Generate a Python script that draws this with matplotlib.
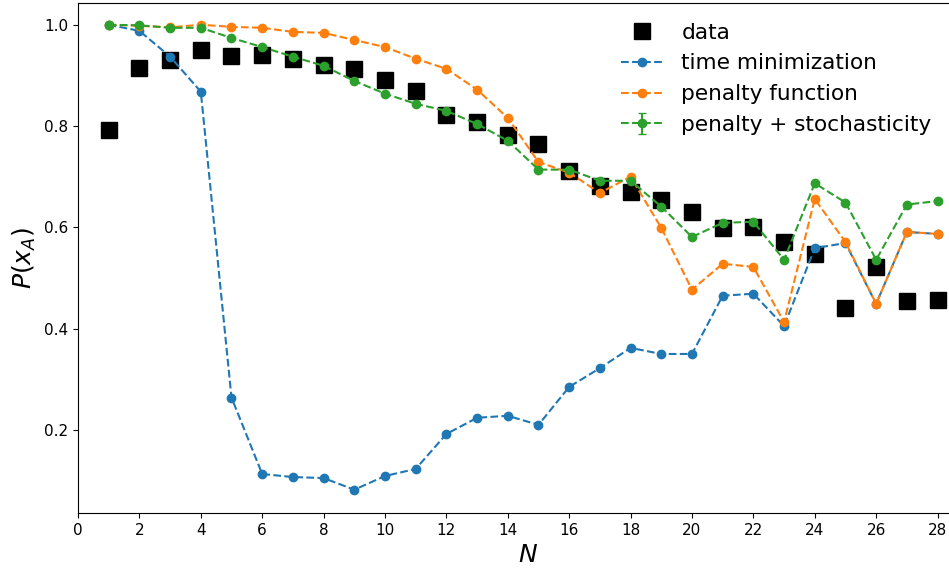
import matplotlib
matplotlib.use('Agg')
import matplotlib.pyplot as plt

N = list(range(1, 29))

# experimental data (black squares)
data = [0.793, 0.915, 0.931, 0.950, 0.939, 0.940, 0.933, 0.921, 0.913, 0.891,
        0.870, 0.821, 0.809, 0.783, 0.764, 0.711, 0.682, 0.669, 0.654, 0.630,
        0.598, 0.600, 0.572, 0.548, 0.441, 0.521, 0.454, 0.457]

time_min = [1.000, 0.988, 0.937, 0.868, 0.264, 0.113, 0.107, 0.105, 0.082, 0.109,
            0.123, 0.192, 0.224, 0.228, 0.210, 0.285, 0.322, 0.362, 0.350, 0.350,
            0.465, 0.469, 0.405, 0.559, 0.569, 0.449, 0.591, 0.587]

penalty = [1.000, 0.998, 0.995, 1.000, 0.996, 0.994, 0.986, 0.984, 0.970, 0.956,
           0.933, 0.913, 0.872, 0.816, 0.729, 0.708, 0.668, 0.700, 0.599, 0.477,
           0.528, 0.522, 0.413, 0.656, 0.571, 0.449, 0.591, 0.587]

penalty_stoch = [1.000, 0.999, 0.994, 0.994, 0.974, 0.956, 0.937, 0.919, 0.889, 0.864,
                 0.844, 0.830, 0.804, 0.771, 0.714, 0.714, 0.692, 0.692, 0.641, 0.581,
                 0.609, 0.611, 0.536, 0.687, 0.649, 0.536, 0.645, 0.652]
# error bars are too small to see in the figure
penalty_stoch_err = [0.002, 0.002, 0.002, 0.002, 0.002, 0.002, 0.002, 0.002, 0.002, 0.002,
                     0.002, 0.002, 0.002, 0.002, 0.002, 0.002, 0.002, 0.002, 0.002, 0.002,
                     0.002, 0.002, 0.002, 0.002, 0.002, 0.002, 0.002, 0.002]

fig = plt.figure(figsize=(9.49, 5.72), dpi=100)
# axes run past the right edge, like the cropped original
ax = fig.add_axes([78 / 949, 59 / 572, 901 / 949, 510 / 572])

ax.plot(N, data, 's', color='black', markersize=12, label='data')
ax.plot(N, time_min, '--o', color='tab:blue', markersize=6, linewidth=1.5,
        label='time minimization')
ax.plot(N, penalty, '--o', color='tab:orange', markersize=6, linewidth=1.5,
        label='penalty function')
ax.errorbar(N, penalty_stoch, yerr=penalty_stoch_err, fmt='--o', color='tab:green',
            markersize=6, linewidth=1.5, capsize=3, label='penalty + stochasticity')

ax.set_xlim(0, 29.35)
ax.set_ylim(0.036, 1.043)
ax.set_xticks(range(0, 29, 2))
ax.set_yticks([0.2, 0.4, 0.6, 0.8, 1.0])
ax.tick_params(labelsize=11)

ax.set_xlabel('$N$', fontsize=18, labelpad=4)
ax.set_ylabel('$P(x_A)$', fontsize=18)

fig.legend(loc='upper right', bbox_to_anchor=(951 / 949, 1 - 3 / 572),
           frameon=False, fontsize=15.6)

plt.savefig('out.png', dpi=100)
